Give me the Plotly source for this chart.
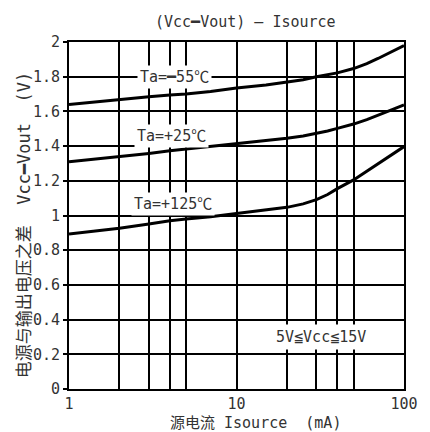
import math
import plotly.graph_objects as go

# Source current (mA) sample points
isource = [1, 2, 3, 4, 5, 7, 10, 15, 20, 25, 30, 35, 40, 50, 60, 70, 85, 100]

# Vcc - Vout (V) for each ambient temperature
v_m55 = [1.64, 1.67, 1.685, 1.695, 1.70, 1.715, 1.735, 1.752, 1.767, 1.782, 1.80, 1.81, 1.822, 1.847, 1.875, 1.905, 1.945, 1.98]
v_p25 = [1.31, 1.339, 1.358, 1.373, 1.383, 1.397, 1.412, 1.43, 1.445, 1.458, 1.473, 1.487, 1.502, 1.527, 1.553, 1.58, 1.61, 1.637]
v_p125 = [0.893, 0.926, 0.951, 0.97, 0.98, 0.993, 1.012, 1.03, 1.047, 1.067, 1.091, 1.121, 1.155, 1.205, 1.255, 1.30, 1.35, 1.397]

series_names = ["Ta=━55℃", "Ta=+25℃", "Ta=+125℃"]
# label anchor positions (Isource in mA, V)
label_x = [4.25, 4.1, 4.2]
label_y = [1.80, 1.46, 1.065]

x_grid = [1, 2, 3, 4, 5, 10, 20, 30, 40, 50, 100]
x_text = ["1", "", "", "", "", "10", "", "", "", "", "100"]
y_ticks = [0, 0.2, 0.4, 0.6, 0.8, 1.0, 1.2, 1.4, 1.6, 1.8, 2.0]
y_text = ["0", "0.2", "0.4", "0.6", "0.8", "1", "1.2", "1.4", "1.6", "1.8", "2"]

FONT = "DejaVu Sans Mono, Noto Sans CJK SC, sans-serif"
TXT = "#333333"

fig = go.Figure()
for name, ys in zip(series_names, [v_m55, v_p25, v_p125]):
    fig.add_trace(go.Scatter(
        x=isource, y=ys, mode="lines", name=name,
        line=dict(color="black", width=3),
        showlegend=False,
    ))

annotations = []
for name, lx, ly in zip(series_names, label_x, label_y):
    annotations.append(dict(
        x=math.log10(lx), y=ly, xref="x", yref="y", text=name, showarrow=False,
        font=dict(family=FONT, size=15, color=TXT),
        bgcolor="white", borderpad=2, xanchor="center", yanchor="middle",
    ))

annotations.append(dict(
    x=math.log10(32), y=0.30, xref="x", yref="y", text="5V≦Vcc≦15V", showarrow=False,
    font=dict(family=FONT, size=15, color=TXT),
    bgcolor="white", borderpad=3, xanchor="center", yanchor="middle",
))
annotations.append(dict(
    x=0.526, y=1.058, xref="paper", yref="paper", text="(Vcc━Vout) — Isource",
    showarrow=False, font=dict(family=FONT, size=15, color=TXT),
    xanchor="center", yanchor="middle",
))
annotations.append(dict(
    x=0.557, y=-0.098, xref="paper", yref="paper", text="源电流 Isource  (mA)",
    showarrow=False, font=dict(family=FONT, size=15, color=TXT),
    xanchor="center", yanchor="middle",
))
annotations.append(dict(
    x=-0.136, y=0.473, xref="paper", yref="paper",
    text="电源与输出电压之差  Vcc━Vout  (V)", textangle=-90,
    showarrow=False, font=dict(family=FONT, size=17, color=TXT),
    xanchor="center", yanchor="middle",
))

fig.update_layout(
    width=430, height=432,
    margin=dict(l=69, r=16, t=42, b=43),
    paper_bgcolor="white", plot_bgcolor="white",
    annotations=annotations,
    xaxis=dict(
        type="log", range=[0, 2], tickmode="array", tickvals=x_grid, ticktext=x_text,
        showgrid=True, gridcolor="black", gridwidth=1.5,
        showline=True, linecolor="black", linewidth=2, mirror=True,
        ticks="", tickfont=dict(family=FONT, size=15, color=TXT),
        zeroline=False,
    ),
    yaxis=dict(
        range=[0, 2], tickmode="array", tickvals=y_ticks, ticktext=y_text,
        showgrid=True, gridcolor="black", gridwidth=1.5,
        showline=True, linecolor="black", linewidth=2, mirror=True,
        ticks="outside", ticklen=4, tickcolor="black", tickwidth=1.5,
        tickfont=dict(family=FONT, size=15, color=TXT),
        zeroline=False,
    ),
)

fig.write_html("out.html")
